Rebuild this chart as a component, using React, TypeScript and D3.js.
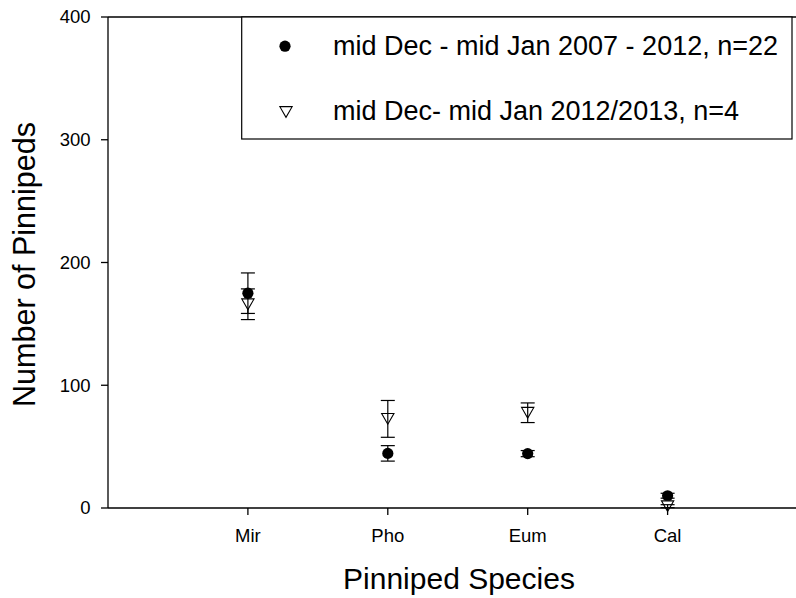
import React from "react";
import * as d3 from "d3";

// Pinniped counts per species, mean ± SE for two survey periods
const species = ["Mir", "Pho", "Eum", "Cal"];
const meanHistoric = [175, 44.5, 44.3, 10];
const seHistoric = [16.5, 6.3, 2.5, 2];
const meanRecent = [166, 72.6, 77.6, 1.5];
const seRecent = [12.5, 15, 8, 1.2];
const yTicks = [0, 100, 200, 300, 400];
const legendLabels = [
  "mid Dec - mid Jan 2007 - 2012, n=22",
  "mid Dec- mid Jan 2012/2013, n=4",
];

const W = 796;
const H = 598;
const left = 108;
const top = 17;
const bottom = 508;

const x = d3.scaleLinear().domain([0, 5]).range([left, left + 5 * 139.9]);
const y = d3.scaleLinear().domain([0, 400]).range([bottom, top]);

const font = "Arial, 'Liberation Sans', sans-serif";

// down-pointing triangle centred on its bounding box
const triSide = 12.3;
const triH = (triSide * Math.sqrt(3)) / 2;
const triPath = (() => {
  const p = d3.path();
  p.moveTo(-triSide / 2, -triH / 2);
  p.lineTo(triSide / 2, -triH / 2);
  p.lineTo(0, triH / 2);
  p.closePath();
  return p.toString();
})();
const circlePath = d3.symbol(d3.symbolCircle, Math.PI * 5.6 * 5.6)()!;

function ErrorBar({ cx, mean, se }: { cx: number; mean: number; se: number }) {
  const hi = y(mean + se);
  const lo = y(mean - se);
  const cap = 7;
  return (
    <g stroke="#000" strokeWidth={1.2} fill="none">
      <line x1={cx} x2={cx} y1={hi} y2={lo} />
      <line x1={cx - cap} x2={cx + cap} y1={hi} y2={hi} />
      <line x1={cx - cap} x2={cx + cap} y1={lo} y2={lo} />
    </g>
  );
}

export default function App() {
  return (
    <svg
      width={W}
      height={H}
      style={{ position: "absolute", left: 0, top: 0, background: "#fff" }}
      fontFamily={font}
    >
      <rect x={0} y={0} width={W} height={H} fill="#fff" />

      {/* series 1: filled circles */}
      {species.map((s, i) => (
        <g key={"h" + s}>
          <path d={circlePath} transform={`translate(${x(i + 1)},${y(meanHistoric[i])})`} fill="#000" />
          <ErrorBar cx={x(i + 1)} mean={meanHistoric[i]} se={seHistoric[i]} />
        </g>
      ))}

      {/* series 2: open down triangles */}
      {species.map((s, i) => (
        <g key={"r" + s}>
          <path
            d={triPath}
            transform={`translate(${x(i + 1)},${y(meanRecent[i])})`}
            fill="#fff"
            stroke="#000"
            strokeWidth={1.1}
          />
          <ErrorBar cx={x(i + 1)} mean={meanRecent[i]} se={seRecent[i]} />
        </g>
      ))}

      {/* frame: left axis, top border, bottom axis */}
      <g stroke="#000" strokeWidth={1.3} fill="none">
        <line x1={left} x2={left} y1={top} y2={bottom} />
        <line x1={left} x2={W} y1={top} y2={top} />
        <line x1={left} x2={W} y1={bottom} y2={bottom} />
      </g>

      {/* y ticks */}
      {yTicks.map((t) => (
        <g key={"y" + t}>
          <line x1={left - 7} x2={left} y1={y(t)} y2={y(t)} stroke="#000" strokeWidth={1.3} />
          <text x={90.5} y={y(t)} dy="0.35em" textAnchor="end" fontSize={18.5} fill="#000">
            {t}
          </text>
        </g>
      ))}

      {/* x ticks */}
      {species.map((s, i) => (
        <g key={"x" + s}>
          <line x1={x(i + 1)} x2={x(i + 1)} y1={bottom} y2={bottom + 7} stroke="#000" strokeWidth={1.3} />
          <text x={x(i + 1)} y={542} textAnchor="middle" fontSize={18.5} fill="#000">
            {s}
          </text>
        </g>
      ))}

      {/* axis titles */}
      <text x={459} y={589} textAnchor="middle" fontSize={30} fill="#000">
        Pinniped Species
      </text>
      <text
        transform={`translate(35,${(top + bottom) / 2 + 2}) rotate(-90)`}
        textAnchor="middle"
        fontSize={30.5}
        fill="#000"
      >
        Number of Pinnipeds
      </text>

      {/* legend */}
      <rect x={241.7} y={top} width={792 - 241.7} height={139 - top} fill="#fff" stroke="#000" strokeWidth={1.2} />
      <path d={circlePath} transform="translate(285,46.2)" fill="#000" />
      <path d={triPath} transform="translate(286,112)" fill="#fff" stroke="#000" strokeWidth={1.1} />
      <text x={333} y={55} fontSize={27} fill="#000">
        {legendLabels[0]}
      </text>
      <text x={333} y={119.5} fontSize={27} fill="#000">
        {legendLabels[1]}
      </text>
    </svg>
  );
}
